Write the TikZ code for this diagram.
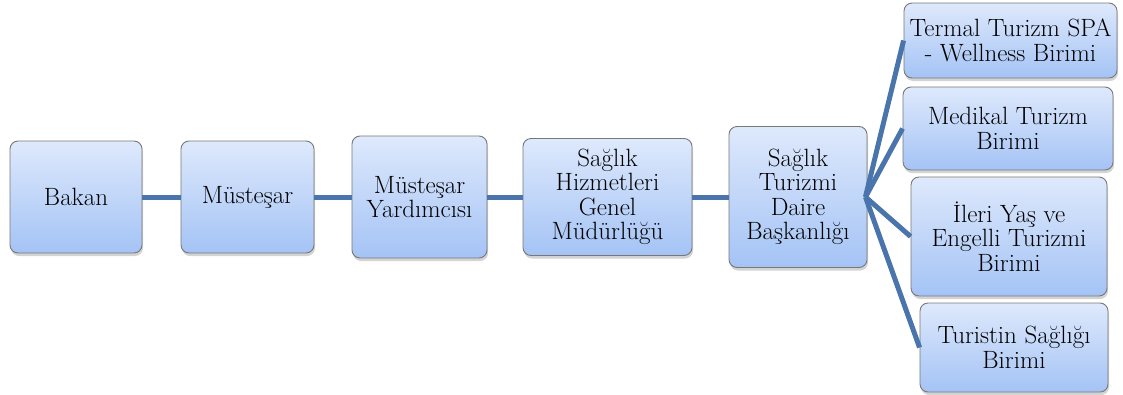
\documentclass[tikz,border=0pt]{standalone}
\usepackage{fontspec}
\usetikzlibrary{shadows}
\definecolor{boxtop}{RGB}{222,233,252}
\definecolor{boxbot}{RGB}{164,195,245}
\definecolor{boxline}{RGB}{120,120,120}
\definecolor{linkc}{RGB}{74,116,172}
\tikzset{
  orgbox/.style={draw=boxline, line width=0.9pt, rounded corners=8pt,
    top color=boxtop, bottom color=boxbot, align=center, inner sep=0pt,
    font=\fontsize{25}{24.5}\selectfont,
    drop shadow={opacity=0.35, shadow xshift=1pt, shadow yshift=-3pt}},
  link/.style={draw=linkc, line width=5pt}
}
\begin{document}
\begin{tikzpicture}[x=1pt,y=-1pt]
\useasboundingbox (0,0) rectangle (1123,394);
\node[orgbox, minimum width=132pt, minimum height=112pt] (bakan) at (76,197) {Bakan};
\node[orgbox, minimum width=133pt, minimum height=112pt] (must) at (247.5,197) {Müsteşar};
\node[orgbox, minimum width=135pt, minimum height=122pt] (yard) at (419.5,197) {Müsteşar\\Yardımcısı};
\node[orgbox, minimum width=169pt, minimum height=117pt] (hizm) at (607.5,197) {Sağlık\\Hizmetleri\\Genel\\Müdürlüğü};
\node[orgbox, minimum width=138pt, minimum height=141pt] (daire) at (798,197) {Sağlık\\Turizmi\\Daire\\Başkanlığı};
\node[orgbox, minimum width=213pt, minimum height=75pt] (termal) at (1010.5,40.5) {Termal Turizm SPA\\- Wellness Birimi};
\node[orgbox, minimum width=210pt, minimum height=83pt] (medikal) at (1008,128.5) {Medikal Turizm\\Birimi};
\node[orgbox, minimum width=196pt, minimum height=119pt] (ileri) at (1009,236.5) {İleri Yaş ve\\Engelli Turizmi\\Birimi};
\node[orgbox, minimum width=188pt, minimum height=89pt] (turist) at (1014,347.5) {Turistin Sağlığı\\Birimi};
\draw[link] (bakan.east) -- (must.west);
\draw[link] (must.east) -- (yard.west);
\draw[link] (yard.east) -- (hizm.west);
\draw[link] (hizm.east) -- (daire.west);
\coordinate (fan) at ([xshift=-2pt]daire.east);
\draw[link] (fan) -- (termal.west);
\draw[link] (fan) -- (medikal.west);
\draw[link] (fan) -- (ileri.west);
\draw[link] (fan) -- (turist.west);
\end{tikzpicture}
\end{document}
